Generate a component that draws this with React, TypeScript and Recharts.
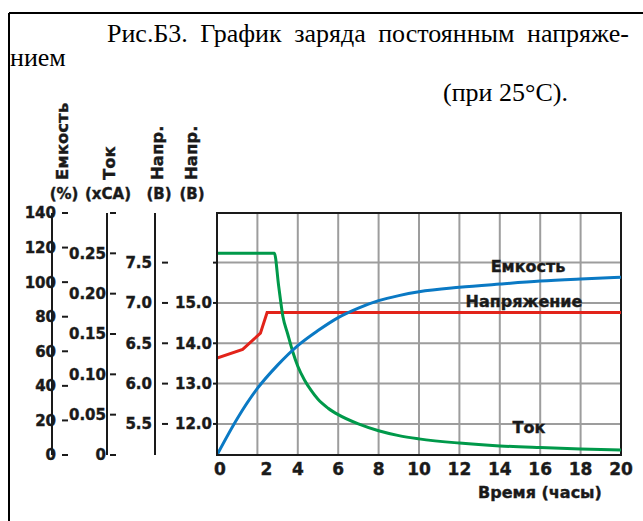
import { CartesianGrid, ComposedChart, Line, ReferenceArea, XAxis, YAxis } from 'recharts'

const W = 643
const H = 521

// шкалы
const hourTicks = [0, 2, 4, 6, 8, 10, 12, 14, 16, 18, 20]
const capacityTicks = [0, 20, 40, 60, 80, 100, 120, 140]
const currentTicks = [0, 0.05, 0.1, 0.15, 0.2, 0.25, 0.3]
const volt6Ticks = [5.5, 6, 6.5, 7, 7.5]
const volt12Ticks = [12, 13, 14, 15, 16]

// Емкость (%)
const capacityHours = [0, 1, 2, 3, 4, 5, 6, 7, 8, 9, 10, 12, 14, 16, 18, 20]
const capacityPct = [0, 21, 38.5, 52, 63.3, 72, 79.5, 85, 89.3, 92.2, 94.4, 97, 98.9, 100.6, 101.8, 102.8]

// Ток (xCA)
const currentHours = [0, 1, 2, 2.84, 3.05, 3.26, 3.5, 3.75, 4, 4.33, 4.66, 5, 5.5, 6, 7, 8, 9, 10, 12, 14, 16, 18, 20]
const currentCA = [
  0.25, 0.25, 0.25, 0.25, 0.21, 0.172, 0.15, 0.128, 0.11, 0.093, 0.08, 0.069, 0.058, 0.05, 0.0385, 0.03,
  0.024, 0.02, 0.0148, 0.0113, 0.0092, 0.0075, 0.0062,
]

// Напряжение (В, шкала 12 В)
const voltageHours = [0, 1.27, 2.15, 2.48, 20]
const voltageV = [13.63, 13.85, 14.25, 14.76, 14.76]

const zip = (xs: number[], ys: number[]) => xs.map((t, i) => ({ t, v: ys[i] }))
const capacityData = zip(capacityHours, capacityPct)
const currentData = zip(currentHours, currentCA)
const voltageData = zip(voltageHours, voltageV)

const BOLD = '"DejaVu Sans", sans-serif'
const SERIF = '"Liberation Serif", "Times New Roman", serif'
const INK = '#1a1a1a'
const BLUE = '#0a79c4'
const RED = '#e2231a'
const GREEN = '#00994a'

// x of each left scale line
const CAP_X = 62
const CUR_X = 110
const V6_X = 162
const PLOT_X = 217

// heavy sans text, a touch of stroke to get close to the black face of the original
const heavy = { fontFamily: BOLD, fontWeight: 'bold' as const, fill: INK, stroke: INK, strokeWidth: 0.4 }

type TickProps = { y: number; payload: { value: number } }

function scaleTick(lineX: number, gap: number, fmt: (v: number) => string, inward = true, hide: number[] = []) {
  return ({ y, payload }: TickProps) => {
    const v = payload.value
    return (
      <g>
        <line x1={lineX} x2={inward ? lineX + 6 : lineX - 4} y1={y} y2={y} stroke={INK} strokeWidth={2} />
        {!hide.includes(v) && (
          <text x={lineX - gap} y={y} dy="0.36em" textAnchor="end" fontSize={15} {...heavy}>
            {fmt(v)}
          </text>
        )}
      </g>
    )
  }
}

const hourTick = ({ x, y, payload }: { x: number; y: number; payload: { value: number } }) => (
  <text
    x={x + (payload.value === 2 ? 9 : payload.value === 0 ? 3 : 0)}
    y={y}
    dy="0.71em"
    textAnchor="middle"
    fontSize={17}
    {...heavy}
  >
    {payload.value}
  </text>
)

const label = (txt: string, x: number, y: number, size = 16) => (
  <text x={x} y={y} dy="0.36em" textAnchor="middle" fontSize={size} {...heavy}>
    {txt}
  </text>
)

const vLabel = (txt: string, x: number, bottom: number) => (
  <text transform={`translate(${x} ${bottom}) rotate(-90)`} dy="0.36em" fontSize={16.5} {...heavy}>
    {txt}
  </text>
)

export default function App() {
  return (
    <div style={{ position: 'fixed', left: 0, top: 0, width: W, height: H, background: '#fff' }}>
      <ComposedChart width={W} height={H} margin={{ top: 213, right: 22, bottom: 36, left: 0 }}>
        <CartesianGrid yAxisId="v12" stroke="#9d9d9d" strokeWidth={2} />
        <XAxis
          dataKey="t"
          type="number"
          domain={[0, 20]}
          ticks={hourTicks}
          interval={0}
          allowDataOverflow
          height={30}
          axisLine={{ stroke: INK, strokeWidth: 2 }}
          tickLine={false}
          tick={hourTick}
        />
        <YAxis
          yAxisId="v12"
          type="number"
          domain={[11.23, 17.23]}
          ticks={volt12Ticks}
          interval={0}
          allowDataOverflow
          width={PLOT_X - V6_X}
          axisLine={{ stroke: INK, strokeWidth: 2 }}
          tickLine={false}
          tick={scaleTick(PLOT_X, 5, (v) => v.toFixed(1), false, [16])}
        />
        <YAxis
          yAxisId="v6"
          type="number"
          domain={[5.115, 8.115]}
          ticks={volt6Ticks}
          interval={0}
          allowDataOverflow
          width={V6_X - CUR_X}
          axisLine={{ stroke: INK, strokeWidth: 2 }}
          tickLine={false}
          tick={scaleTick(V6_X, 10, (v) => v.toFixed(1))}
        />
        <YAxis
          yAxisId="cur"
          type="number"
          domain={[0, 0.3]}
          ticks={currentTicks}
          interval={0}
          allowDataOverflow
          width={CUR_X - CAP_X}
          axisLine={{ stroke: INK, strokeWidth: 2 }}
          tickLine={false}
          tick={scaleTick(CUR_X, 4, (v) => (v === 0 ? '0' : v.toFixed(2)), true, [0.3])}
        />
        <YAxis
          yAxisId="cap"
          type="number"
          domain={[0, 140]}
          ticks={capacityTicks}
          interval={0}
          allowDataOverflow
          width={CAP_X}
          axisLine={{ stroke: INK, strokeWidth: 2 }}
          tickLine={false}
          tick={scaleTick(CAP_X, 6, (v) => String(v))}
        />
        <Line
          yAxisId="v12"
          data={voltageData}
          dataKey="v"
          type="linear"
          stroke={RED}
          strokeWidth={3}
          dot={false}
          isAnimationActive={false}
        />
        <Line
          yAxisId="cur"
          data={currentData}
          dataKey="v"
          type="monotone"
          stroke={GREEN}
          strokeWidth={3}
          dot={false}
          isAnimationActive={false}
        />
        <Line
          yAxisId="cap"
          data={capacityData}
          dataKey="v"
          type="monotone"
          stroke={BLUE}
          strokeWidth={3}
          dot={false}
          isAnimationActive={false}
        />
        <ReferenceArea
          yAxisId="v12"
          x1={0}
          x2={20}
          y1={11.23}
          y2={17.23}
          fill="none"
          stroke={INK}
          strokeWidth={2}
          ifOverflow="visible"
        />
      </ComposedChart>

      <svg width={W} height={H} style={{ position: 'absolute', left: 0, top: 0, pointerEvents: 'none' }}>
        <line x1={9} x2={W} y1={13} y2={13} stroke="#000" strokeWidth={2} />
        <line x1={9} x2={9} y1={13} y2={H} stroke="#000" strokeWidth={2} />

        <text x={107} y={42} fontFamily={SERIF} fontSize={26} wordSpacing={6} fill="#000">
          Рис.Б3. График заряда постоянным напряже-
        </text>
        <text x={10} y={66} fontFamily={SERIF} fontSize={26} fill="#000">
          нием
        </text>
        <text x={443} y={101} fontFamily={SERIF} fontSize={26} fill="#000">
          (при 25°С).
        </text>

        {vLabel('Емкость', 62, 180)}
        {vLabel('Ток', 109, 180)}
        {vLabel('Напр.', 157, 180)}
        {vLabel('Напр.', 191, 180)}
        {label('(%)', 64, 194, 15)}
        {label('(xCA)', 108, 194, 15)}
        {label('(B)', 159, 194, 15)}
        {label('(B)', 192, 194, 15)}

        {label('Емкость', 528, 266)}
        {label('Напряжение', 524, 301)}
        {label('Ток', 529, 427)}
        {label('Время (часы)', 540, 492)}
      </svg>
    </div>
  )
}
